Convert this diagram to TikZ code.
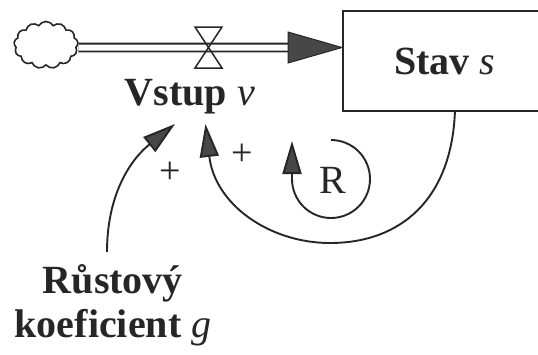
\documentclass[tikz,border=0pt]{standalone}
\usepackage{fontspec}
\setmainfont{Liberation Serif}[BoldFont={Liberation Serif Bold},ItalicFont={Liberation Serif Italic},BoldItalicFont={Liberation Serif Bold Italic}]
\usetikzlibrary{arrows.meta,shapes.symbols}
\begin{document}
\begin{tikzpicture}[x=1pt,y=-1pt,
  ink/.style={draw=black!85, line width=1.9pt},
  causal/.style={ink, -{Triangle[length=33pt,width=19pt,fill=black!72]}},
  lbl/.style={font=\fontsize{40}{44}\selectfont\bfseries, text=black!85, inner sep=0pt},
  sign/.style={font=\fontsize{38}{40}\selectfont, text=black!85, inner sep=0pt},
  pipe/.style={draw=black!85, line width=1.8pt, double=white, double distance=6pt},
  valve/.style={draw=black!85, line width=1.5pt, line join=miter},
]
\clip (0,0) rectangle (538,354);
\fill[white] (0,0) rectangle (538,354);

% cloud (source)
\node[cloud, draw=black!85, line width=1.6pt, cloud puffs=13, cloud puff arc=120,
      aspect=1.35, minimum width=64pt, minimum height=47pt, inner sep=0pt] (cl) at (46,45) {};

% stock
\node[ink, lbl, minimum width=204pt, minimum height=100pt, anchor=north west] (stav) at (342,10) {Stav \textit{\mdseries s}};

% flow pipe
\coordinate (ftip) at ([yshift=-37.5pt]stav.north west);
\coordinate (fbase) at (290,47.5);
\draw[pipe] ([yshift=-2.5pt]cl.east) -- (fbase);
\filldraw[fill=black!72, draw=black!85, line width=1pt, line join=miter] (288,32) -- (ftip) -- (288,63) -- cycle;

% valve
\coordinate (vc) at (208.5,47.5);
\draw[valve] (195,27) -- (222,27) -- (vc) -- cycle;
\draw[valve] (195,68) -- (222,68) -- (vc) -- cycle;

% labels
\node[lbl] (vstup) at (190,97) {Vstup \textit{\mdseries v}};
\node[lbl, align=center] (rg) at (113,305) {Růstový\\koeficient \textit{\mdseries g}};

% connector end points
\coordinate (s0) at (455,110);
\coordinate (vin1) at (205.5,124);
\coordinate (vin2) at (175,124);
\coordinate (g0) at (107,252);

% outer feedback link: stav -> vstup
\draw[causal] (s0) .. controls (452,200) and (400,243) .. (330,243)
                   .. controls (270,243) and (215,205) .. (vin1);

% growth coefficient -> vstup
\draw[causal] (g0) .. controls (107,195) and (130,160) .. (vin2);

% reinforcing loop marker
\coordinate (r0) at (331,140);
\draw[causal] (r0) arc[start angle=90, end angle=-180, radius=39pt] -- ++(0,-38);
\node[font=\fontsize{40}{40}\selectfont, text=black!85, inner sep=0pt] (R) at (333,180) {R};

% polarity signs
\node[sign] (p1) at (170,173) {+};
\node[sign] (p2) at (242,155) {+};
\end{tikzpicture}
\end{document}
